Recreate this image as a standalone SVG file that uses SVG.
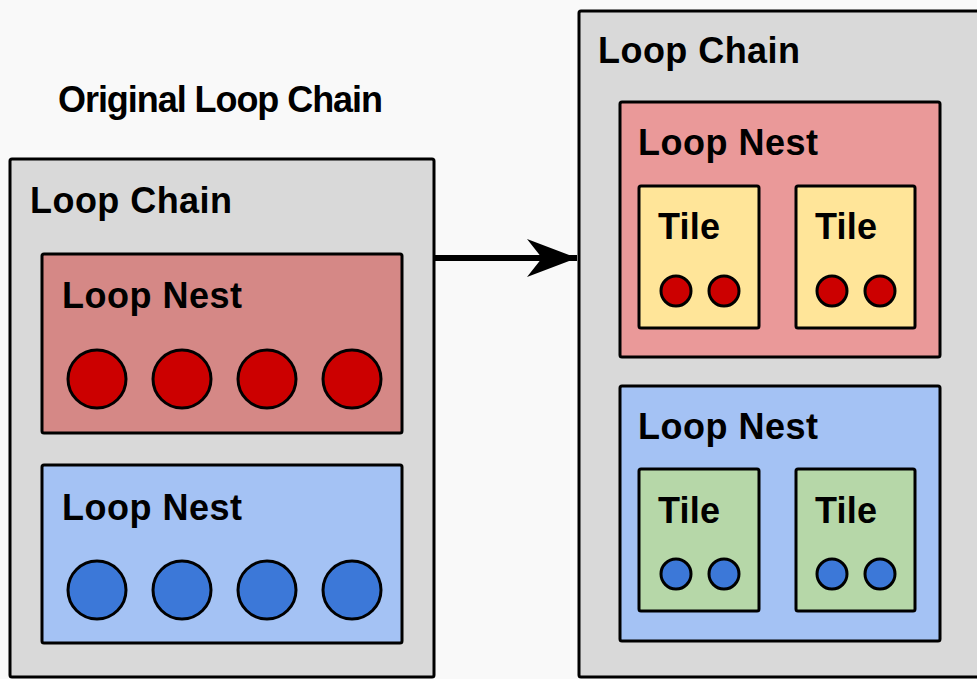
<svg xmlns="http://www.w3.org/2000/svg" width="977" height="679" viewBox="0 0 977 679">
  <style>
    text { font-family: "Liberation Sans", Arial, sans-serif; font-weight: bold; fill: #000; font-size: 36px; }
    .chain { fill: #d9d9d9; stroke: #000; stroke-width: 3; }
    .nest-red { fill: #ea9999; stroke: #000; stroke-width: 3; }
    .nest-red-dark { fill: #d58886; stroke: #000; stroke-width: 3; }
    .nest-blue { fill: #a4c2f4; stroke: #000; stroke-width: 3; }
    .tile-yellow { fill: #ffe599; stroke: #000; stroke-width: 3; }
    .tile-green { fill: #b6d7a8; stroke: #000; stroke-width: 3; }
    .it-red { fill: #cc0000; stroke: #000; stroke-width: 3; }
    .it-blue { fill: #3c78d8; stroke: #000; stroke-width: 3; }
  </style>
  <defs>
    <marker id="stealth" markerUnits="userSpaceOnUse" markerWidth="52" markerHeight="40" refX="50" refY="19" orient="auto">
      <path d="M0,0 L50,19 L0,38 L15,19 Z" fill="#000"/>
    </marker>
  </defs>

  <rect width="977" height="679" fill="#f9f9f9"/>

  <text id="title" x="58" y="112" textLength="325">Original Loop Chain</text>

  <!-- original loop chain -->
  <g id="chain-original">
    <rect class="chain" x="10" y="159" width="424" height="518" rx="2"/>
    <text x="30" y="213" textLength="202">Loop Chain</text>
  </g>
  <g id="nest-original-red">
    <rect class="nest-red-dark" x="42" y="254" width="360" height="179" rx="2"/>
    <text x="62" y="308" textLength="180">Loop Nest</text>
    <circle class="it-red" cx="97" cy="379" r="29"/>
    <circle class="it-red" cx="182" cy="379" r="29"/>
    <circle class="it-red" cx="267" cy="379" r="29"/>
    <circle class="it-red" cx="352" cy="379" r="29"/>
  </g>
  <g id="nest-original-blue">
    <rect class="nest-blue" x="42" y="465" width="360" height="178" rx="2"/>
    <text x="62" y="520" textLength="180">Loop Nest</text>
    <circle class="it-blue" cx="97" cy="590" r="29"/>
    <circle class="it-blue" cx="182" cy="590" r="29"/>
    <circle class="it-blue" cx="267" cy="590" r="29"/>
    <circle class="it-blue" cx="352" cy="590" r="29"/>
  </g>

  <!-- tiled loop chain -->
  <g id="chain-tiled">
    <rect class="chain" x="579" y="11" width="420" height="666" rx="2"/>
    <text x="598" y="63" textLength="202">Loop Chain</text>
  </g>
  <g id="nest-tiled-red">
    <rect class="nest-red" x="620" y="102" width="320" height="255" rx="2"/>
    <text x="638" y="155" textLength="180">Loop Nest</text>
  </g>
  <g id="tile-red-1">
    <rect class="tile-yellow" x="639" y="186" width="120" height="142" rx="2"/>
    <text x="658" y="239" textLength="62">Tile</text>
    <circle class="it-red" cx="676" cy="291" r="15"/>
    <circle class="it-red" cx="724" cy="291" r="15"/>
  </g>
  <g id="tile-red-2">
    <rect class="tile-yellow" x="796" y="186" width="119" height="142" rx="2"/>
    <text x="815" y="239" textLength="62">Tile</text>
    <circle class="it-red" cx="832" cy="291" r="15"/>
    <circle class="it-red" cx="880" cy="291" r="15"/>
  </g>
  <g id="nest-tiled-blue">
    <rect class="nest-blue" x="620" y="386" width="320" height="255" rx="2"/>
    <text x="638" y="439" textLength="180">Loop Nest</text>
  </g>
  <g id="tile-blue-1">
    <rect class="tile-green" x="639" y="469" width="120" height="142" rx="2"/>
    <text x="658" y="523" textLength="62">Tile</text>
    <circle class="it-blue" cx="676" cy="574" r="15"/>
    <circle class="it-blue" cx="724" cy="574" r="15"/>
  </g>
  <g id="tile-blue-2">
    <rect class="tile-green" x="796" y="469" width="119" height="142" rx="2"/>
    <text x="815" y="523" textLength="62">Tile</text>
    <circle class="it-blue" cx="832" cy="574" r="15"/>
    <circle class="it-blue" cx="880" cy="574" r="15"/>
  </g>

  <!-- connectors -->
  <g id="connectors">
    <line x1="434" y1="258" x2="577" y2="258" stroke="#000" stroke-width="6" marker-end="url(#stealth)"/>
  </g>
</svg>
